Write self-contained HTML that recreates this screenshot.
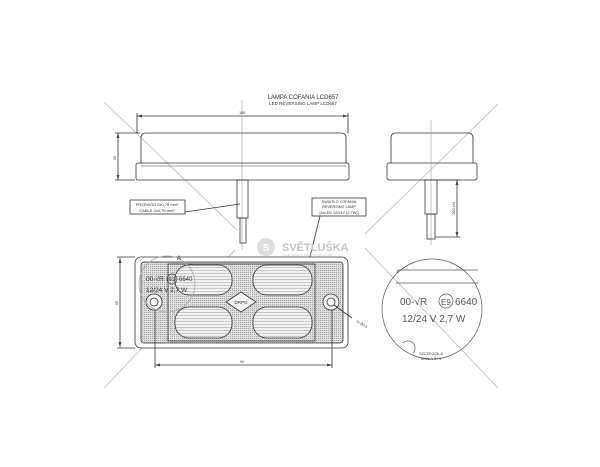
<!DOCTYPE html>
<html><head><meta charset="utf-8"><style>
html,body{margin:0;padding:0;background:#fff;width:600px;height:467px;overflow:hidden}
svg{display:block}
text{font-family:"Liberation Sans",sans-serif;fill:#333}
</style></head><body>
<svg width="600" height="467" viewBox="0 0 600 467" xmlns="http://www.w3.org/2000/svg">
<defs>
<pattern id="dots" width="2" height="2" patternUnits="userSpaceOnUse"><rect width="2" height="2" fill="#dedede"/><rect width="1" height="1" fill="#a8a8a8"/></pattern>
<pattern id="hl" width="4" height="3" patternUnits="userSpaceOnUse"><rect width="4" height="3" fill="#f2f2f2"/><rect width="4" height="1" fill="#c8c8c8"/></pattern>
</defs>
<g stroke="#c8c8c8" stroke-width="1">
<line x1="104" y1="102" x2="237" y2="230"/>
<line x1="498" y1="104" x2="365" y2="234"/>
<line x1="104" y1="388" x2="235" y2="250"/>
<line x1="365" y1="248" x2="498" y2="388"/>
</g>
<text x="303" y="99" font-size="6" text-anchor="middle">LAMPA COFANIA LCD657</text>
<text x="303" y="105" font-size="4.5" text-anchor="middle">LED REVERSING LAMP LCD657</text>
<g stroke="#333" stroke-width="0.8" fill="none">
<line x1="137" y1="116" x2="348" y2="116"/>
<line x1="137" y1="113" x2="137" y2="133"/><line x1="348" y1="113" x2="348" y2="133"/>
<path d="M141 163 L141 138 Q141 133 146 133 L341 133 Q346 133 346 138 L346 163"/>
<rect x="136" y="163" width="213" height="17" rx="2"/>
<line x1="141" y1="166" x2="346" y2="166" stroke="#888"/>
<line x1="242" y1="100" x2="242" y2="250" stroke="#888" stroke-width="0.5"/>
<rect x="237" y="180" width="11" height="38"/>
<rect x="240" y="218" width="6" height="25"/>
<line x1="118" y1="133" x2="118" y2="180"/>
<line x1="115" y1="133" x2="140" y2="133"/><line x1="115" y1="180" x2="135" y2="180"/>
<path d="M391 163 L391 138 Q391 133 396 133 L468 133 Q473 133 473 138 L473 163"/>
<rect x="387" y="163" width="90" height="17" rx="2"/>
<line x1="431" y1="120" x2="431" y2="245" stroke="#888" stroke-width="0.5"/>
<rect x="425" y="180" width="12" height="34"/>
<rect x="427" y="214" width="8" height="25"/>
<line x1="457" y1="180" x2="457" y2="237"/>
<line x1="437" y1="180" x2="460" y2="180"/><line x1="435" y1="237" x2="460" y2="237"/>
<rect x="130" y="200" width="55" height="14"/>
<line x1="185" y1="212" x2="240" y2="204"/>
<rect x="312" y="198" width="54" height="18"/>
<line x1="320" y1="216" x2="300" y2="297"/>
</g>
<g fill="#444">
<path d="M137 116 l5 -1.5 v3z M348 116 l-5 -1.5 v3z"/>
<path d="M118 133 l-1.5 5 h3z M118 180 l-1.5 -5 h3z"/>
<path d="M457 180 l-1.5 5 h3z M457 237 l-1.5 -5 h3z"/>
</g>
<text x="242" y="114" font-size="3.5" text-anchor="middle">108</text>
<text x="116" y="158" font-size="3.5" transform="rotate(-90 116 158)" text-anchor="middle">26</text>
<text x="455" y="208" font-size="3.5" transform="rotate(-90 455 208)" text-anchor="middle">500 ±10</text>
<text x="157" y="206" font-size="4" text-anchor="middle">PRZEWÓD 2x0,75 mm²</text>
<text x="157" y="212" font-size="4" text-anchor="middle">CABLE 2x0,75 mm²</text>
<text x="339" y="203" font-size="3.8" text-anchor="middle">ŚWIATŁO COFANIA</text>
<text x="339" y="208" font-size="3.8" text-anchor="middle">REVERSING LAMP</text>
<text x="339" y="214" font-size="3.8" text-anchor="middle">[4xLED 12/24V (2,7W)]</text>
<circle cx="266" cy="247" r="9" fill="#ddd"/>
<text x="266" y="251" font-size="10" text-anchor="middle" style="fill:#fff" font-weight="bold">S</text>
<text x="282" y="251" font-size="11" font-weight="bold" style="fill:#c4c4c4">SVĚTLUŠKA</text>
<text x="282" y="256" font-size="3" style="fill:#ccc">VAŠE CESTA K NÁHRADNÍM DÍLŮM</text>
<g stroke="#333" stroke-width="0.8">
<rect x="135" y="257" width="213" height="91" rx="6" fill="#fff"/>
<rect x="141" y="262" width="202" height="81" rx="3" fill="url(#dots)"/>
<rect x="168" y="264" width="147" height="77" fill="url(#dots)"/>
<rect x="175" y="265" width="57" height="30" rx="14" fill="url(#hl)"/>
<rect x="253" y="265" width="59" height="30" rx="14" fill="url(#hl)"/>
<rect x="175" y="307" width="57" height="31" rx="14" fill="url(#hl)"/>
<rect x="253" y="307" width="59" height="31" rx="14" fill="url(#hl)"/>
<path d="M241 292 L256 302 L241 312 L226 302Z" fill="#f4f4f4"/>
<circle cx="154" cy="302" r="8" fill="#f4f4f4"/><circle cx="154" cy="302" r="4" fill="#fff"/>
<circle cx="331" cy="302" r="8" fill="#f4f4f4"/><circle cx="331" cy="302" r="4" fill="#fff"/>
<line x1="334" y1="305" x2="352" y2="318" fill="none"/>
<line x1="120" y1="258" x2="120" y2="347" fill="none"/>
<line x1="117" y1="257" x2="135" y2="257"/><line x1="117" y1="348" x2="135" y2="348"/>
<line x1="155" y1="365" x2="332" y2="365"/>
<line x1="155" y1="310" x2="155" y2="368"/><line x1="332" y1="310" x2="332" y2="368"/>
<circle cx="167" cy="284" r="28" fill="none" stroke="#aaa"/>
</g>
<g fill="#444"><path d="M120 258 l-1.5 5 h3z M120 347 l-1.5 -5 h3z M155 365 l5 -1.5 v3z M332 365 l-5 -1.5 v3z"/></g>
<text x="177" y="260" font-size="6">A</text>
<text x="118" y="303" font-size="3.5" transform="rotate(-90 118 303)" text-anchor="middle">66</text>
<text x="242" y="363" font-size="3.5" text-anchor="middle">90</text>
<text x="356" y="322" font-size="3.5" transform="rotate(30 356 322)">2x Ø3,5</text>
<text x="241" y="304" font-size="4.5" text-anchor="middle">DRPO</text>
<text x="146" y="281" font-size="6.5">00-√R</text>
<circle cx="172" cy="279" r="5" fill="none" stroke="#444" stroke-width="0.7"/>
<text x="169" y="281" font-size="5">E9</text>
<text x="179" y="281" font-size="6">6640</text>
<text x="146" y="292" font-size="6.5">12/24 V  2,7 W</text>
<g stroke="#555" stroke-width="0.7" fill="none">
<circle cx="432" cy="309" r="50"/>
<path d="M397 273 L398 270 L478 270"/><line x1="396" y1="283" x2="478" y2="283"/>
<path d="M403 343 a7 7 0 1 1 10 10"/>
<circle cx="446" cy="301" r="7"/>
</g>
<text x="400" y="305" font-size="10" style="fill:#555">00-√R</text>
<text x="441" y="305" font-size="8" style="fill:#555">E9</text>
<text x="455" y="305" font-size="10" style="fill:#555">6640</text>
<text x="402" y="322" font-size="10" style="fill:#555">12/24 V   2,7 W</text>
<text x="431" y="355" font-size="3.8" text-anchor="middle">SZCZEGÓŁ A</text>
<text x="431" y="360" font-size="3.8" text-anchor="middle">SKALA 3 : 1</text>
</svg>
</body></html>
